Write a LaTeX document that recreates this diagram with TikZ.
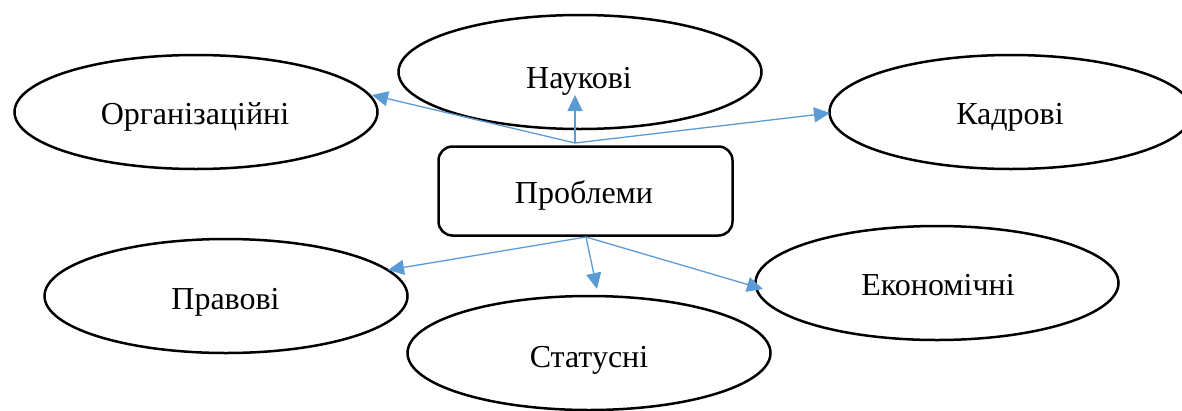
\documentclass[tikz,border=0pt]{standalone}
\usepackage{fontspec}
\setmainfont{Liberation Serif}
\usetikzlibrary{shapes.geometric,arrows.meta}
\definecolor{arrowblue}{HTML}{5B9BD5}
\begin{document}
\begin{tikzpicture}[x=1pt,y=-1pt,
  oval/.style={ellipse,draw,line width=2.5pt,minimum width=363pt,minimum height=114pt,inner sep=0pt},
  lbl/.style={anchor=base,font=\fontsize{32}{38}\selectfont,inner sep=0pt},
  conn/.style={draw=arrowblue,line width=1.3pt,-{Triangle[length=16pt,width=15pt]}}]
\useasboundingbox (0,0) rectangle (1182,410);
% ellipses
\node[oval] (nauk) at (580,72) {};
\node[oval] (org) at (196,112) {};
\node[oval] (kadr) at (1011,112) {};
\node[oval] (prav) at (226,296) {};
\node[oval] (ekon) at (937,283) {};
\node[oval] (stat) at (589,353) {};
\node[draw,rounded corners=14pt,line width=2.5pt,minimum width=294pt,minimum height=89pt,inner sep=0pt] (prob) at (585.5,191) {};
% labels
\node[lbl] (tnauk) at (579,88.6) {Наукові};
\node[lbl] (torg) at (195,124.6) {Організаційні};
\node[lbl] (tkadr) at (1010,124.6) {Кадрові};
\node[lbl] (tprav) at (225.5,309.6) {Правові};
\node[lbl] (tekon) at (938,295.6) {Економічні};
\node[lbl] (tstat) at (589,367.6) {Статусні};
\node[lbl] (tprob) at (584,203.6) {Проблеми};
% connector end points
\coordinate (ptop) at (575,143);
\coordinate (pbot) at (586,237);
\coordinate (eorg) at (372,95);
\coordinate (enauk) at (575,95);
\coordinate (ekadr) at (830,113);
\coordinate (eprav) at (388,270);
\coordinate (estat) at (597,289);
\coordinate (eekon) at (763,289);
% connectors
\draw[conn] (ptop) -- (eorg);
\draw[conn] (ptop) -- (enauk);
\draw[conn] (ptop) -- (ekadr);
\draw[conn] (pbot) -- (eprav);
\draw[conn] (pbot) -- (estat);
\draw[conn] (pbot) -- (eekon);
\end{tikzpicture}
\end{document}
